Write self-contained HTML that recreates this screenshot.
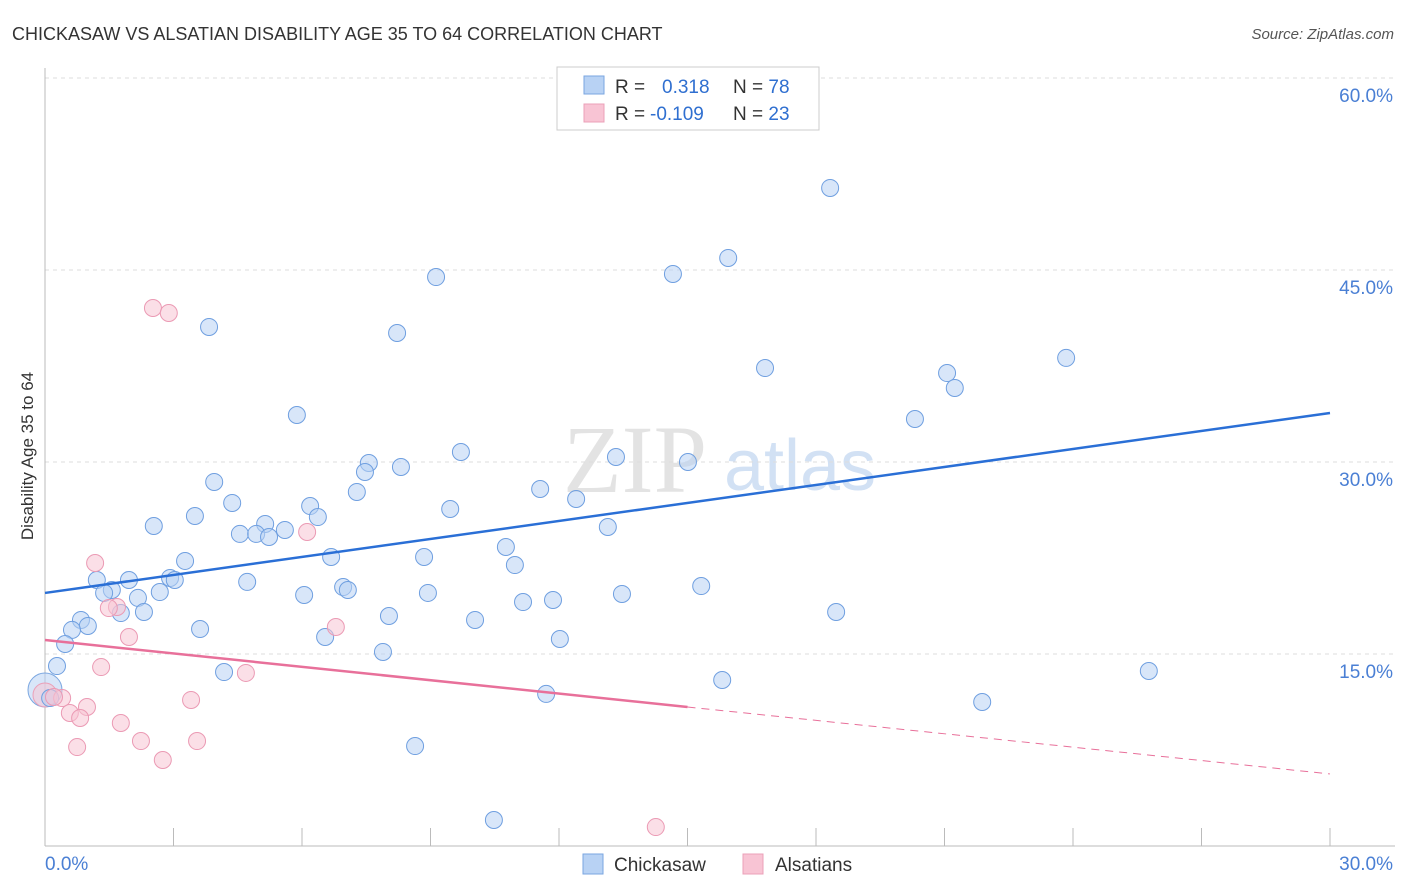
<!DOCTYPE html>
<html><head><meta charset="utf-8">
<style>
body{margin:0;background:#fff;font-family:"Liberation Sans",sans-serif;}
#wrap{position:relative;width:1406px;height:892px;overflow:hidden;}
</style></head>
<body>
<div id="wrap">
<svg id="svg" width="1406" height="892" xmlns="http://www.w3.org/2000/svg">
<text x="12" y="40" font-size="18" fill="#333">CHICKASAW VS ALSATIAN DISABILITY AGE 35 TO 64 CORRELATION CHART</text>
<text x="1394" y="39" font-size="15" fill="#555" font-style="italic" text-anchor="end">Source: ZipAtlas.com</text>
<text transform="translate(33,456) rotate(-90)" font-size="17" fill="#333" text-anchor="middle">Disability Age 35 to 64</text>
<g>
<text x="635" y="492" font-size="96" fill="#ddd" font-family="Liberation Serif" text-anchor="middle" opacity="0.8">ZIP</text>
<text x="800" y="490" font-size="72" fill="#c8daf2" text-anchor="middle" opacity="0.8">atlas</text>
</g>
<g id="grid"></g><g id="axes"></g><g id="marks"></g>
<g>
<rect x="557" y="67" width="262" height="63" fill="#fff" stroke="#ccc"/>
<rect x="584" y="76" width="20" height="18" fill="#b8d2f4" stroke="#7aa6e0"/>
<rect x="584" y="104" width="20" height="18" fill="#f8c4d4" stroke="#eba0b8"/>
<text x="615" y="93" font-size="19" fill="#333">R = <tspan x="662" fill="#2f6fd0">0.318</tspan><tspan x="733" fill="#333">N = </tspan><tspan fill="#2f6fd0">78</tspan></text>
<text x="615" y="120" font-size="19" fill="#333">R = <tspan x="650" fill="#2f6fd0">-0.109</tspan><tspan x="733" fill="#333">N = </tspan><tspan fill="#2f6fd0">23</tspan></text>
</g>
<g>
<rect x="583" y="854" width="20" height="20" fill="#b8d2f4" stroke="#7aa6e0"/>
<text x="614" y="871" font-size="19" fill="#333">Chickasaw</text>
<rect x="743" y="854" width="20" height="20" fill="#f8c4d4" stroke="#eba0b8"/>
<text x="775" y="871" font-size="19" fill="#333">Alsatians</text>
</g>
</svg>
</div>
<script>
const blueX=[18.33,15.95,14.66,9.13,3.83,8.22,16.81,23.84,21.06,21.24,5.88,20.31,9.71,13.33,7.56,8.31,7.47,15.01,3.95,7.28,11.56,12.40,4.37,6.19,9.46,3.50,6.37,2.54,13.14,5.14,4.55,4.93,5.23,5.60,10.76,6.68,8.85,3.27,10.97,1.21,1.96,2.92,3.03,4.72,6.96,7.07,15.32,1.56,1.38,2.68,6.05,8.94,13.47,2.17,11.16,11.86,2.31,1.77,0.84,1.00,8.03,10.04,18.47,0.63,3.62,6.54,12.02,0.47,7.89,0.28,25.77,4.18,15.81,11.70,21.88,8.64,10.48,0.12];
const blueY=[51.41,45.94,44.69,44.45,40.55,40.08,37.34,38.13,36.95,35.78,33.67,33.36,30.78,30.39,29.92,29.61,29.22,30.00,28.44,27.66,27.89,27.11,26.80,26.56,26.33,25.78,25.70,25.00,24.92,25.16,24.38,24.38,24.14,24.69,23.36,22.58,22.58,22.27,21.95,20.78,20.78,20.94,20.78,20.63,20.23,20.00,20.31,20.00,19.77,19.84,19.61,19.77,19.69,19.38,19.06,19.22,18.28,18.20,17.66,17.19,17.97,17.66,18.28,16.88,16.95,16.33,16.17,15.78,15.16,14.06,13.67,13.59,12.97,11.88,11.25,7.81,2.03,11.56];
const pinkX=[2.52,2.89,1.17,1.68,1.49,6.12,6.79,1.96,1.31,4.69,0.40,0.21,3.41,0.98,0.58,0.82,1.77,0.75,2.24,3.55,2.75,14.26];
const pinkY=[42.03,41.64,22.11,18.67,18.59,24.53,17.11,16.33,13.98,13.52,11.56,11.64,11.41,10.86,10.39,10.00,9.61,7.73,8.20,8.20,6.72,1.48];
const bigBlue=[0,12.19], bigPink=[0,11.8];
const blueTrend=[19.77,33.83], pinkTrend=[16.09,5.63];
const yTicks=[15,30,45,60];
const yTickLabels=["15.0%","30.0%","45.0%","60.0%"];
const xTicks=[0,3,6,9,12,15,18,21,24,27,30];

const NS="http://www.w3.org/2000/svg";
const X=v=>45+v*1285/30, Y=v=>846-v*192/15;
function mk(t,a,p){const e=document.createElementNS(NS,t);for(const k in a)e.setAttribute(k,a[k]);p.appendChild(e);return e;}
const grid=document.getElementById('grid'),axes=document.getElementById('axes'),marks=document.getElementById('marks');
yTicks.forEach((v,i)=>{
 const l=mk('line',{x1:45,x2:1395,y1:Y(v),y2:Y(v),stroke:'#ddd','stroke-dasharray':'4,4'},grid);
 
 
 const t=mk('text',{x:1393,y:Y(v)+24,'font-size':19,fill:'#4a7fd4','text-anchor':'end'},axes);t.textContent=yTickLabels[i];
 
 
});
mk('line',{x1:45,x2:45,y1:68,y2:846,stroke:'#bbb'},axes);
mk('line',{x1:45,x2:1395,y1:846,y2:846,stroke:'#bbb'},axes);
xTicks.forEach(v=>{const t=mk('line',{x1:X(v),x2:X(v),y1:828,y2:846,stroke:'#bbb'},axes);
 
 });
let t0=mk('text',{x:45,y:870,'font-size':19,fill:'#4a7fd4'},axes);t0.textContent="0.0%";


let t1=mk('text',{x:1393,y:870,'font-size':19,fill:'#4a7fd4','text-anchor':'end'},axes);t1.textContent="30.0%";



function dot(x,y,r,fill,stroke,name){const c=mk('circle',{cx:X(x),cy:Y(y),r:r,fill:fill,stroke:stroke,'stroke-width':1,'fill-opacity':0.55},marks);
 
 }
dot(bigBlue[0],bigBlue[1],17,'#b8d2f4','#7aa6e0','chickasaw-point');
dot(bigPink[0],bigPink[1],12,'#f8c4d4','#eba0b8','alsatians-point');
blueX.forEach((x,i)=>dot(x,blueY[i],8.5,'#b8d2f4','#6f9fe0','chickasaw-point'));
pinkX.forEach((x,i)=>dot(x,pinkY[i],8.5,'#f8c4d4','#eb9ab4','alsatians-point'));
const bl=mk('line',{x1:X(0),y1:Y(blueTrend[0]),x2:X(30),y2:Y(blueTrend[1]),stroke:'#2a6fd6','stroke-width':2.5},marks);


const pm=pinkTrend[0]+(pinkTrend[1]-pinkTrend[0])*0.5;
const pl=mk('line',{x1:X(0),y1:Y(pinkTrend[0]),x2:X(15),y2:Y(pm),stroke:'#e8709a','stroke-width':2.5},marks);


const pd=mk('line',{x1:X(15),y1:Y(pm),x2:X(30),y2:Y(pinkTrend[1]),stroke:'#e8709a','stroke-width':1,'stroke-dasharray':'8,6'},marks);


</script>
</body></html>
